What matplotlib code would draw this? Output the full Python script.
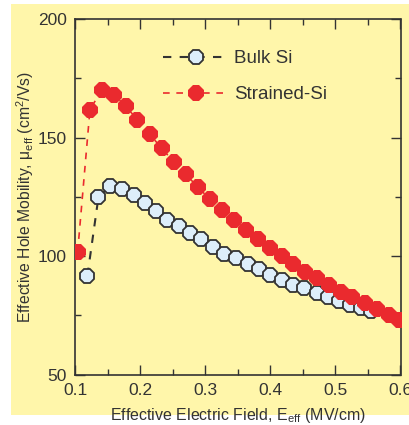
import numpy as np
import matplotlib.pyplot as plt
from matplotlib.patches import Rectangle
from matplotlib.ticker import MultipleLocator

plt.rcParams['font.family'] = ['Liberation Sans', 'DejaVu Sans']
plt.rcParams['mathtext.default'] = 'regular'

# Data
strained_x = [0.104, 0.123, 0.141, 0.160, 0.178, 0.196, 0.215, 0.233, 0.252, 0.270,
              0.289, 0.307, 0.326, 0.345, 0.363, 0.381, 0.399, 0.418, 0.435, 0.453,
              0.472, 0.490, 0.508, 0.526, 0.545, 0.564, 0.582, 0.598]
strained_y = [101.6, 161.8, 170.0, 168.0, 163.2, 157.4, 151.3, 145.5, 139.6, 134.5,
              129.0, 124.0, 119.3, 115.1, 111.0, 107.1, 103.5, 100.0, 96.6, 93.3,
              90.6, 87.8, 85.0, 82.5, 80.1, 77.6, 75.3, 73.0]

bulk_x = [0.119, 0.136, 0.154, 0.172, 0.190, 0.207, 0.224, 0.242, 0.260, 0.277,
          0.294, 0.312, 0.329, 0.347, 0.365, 0.382, 0.400, 0.418, 0.435, 0.452,
          0.471, 0.488, 0.505, 0.523, 0.540, 0.554]
bulk_y = [91.6, 124.8, 129.5, 128.3, 125.6, 122.4, 118.9, 115.4, 112.7, 109.5,
          107.1, 103.9, 100.8, 99.0, 96.5, 94.4, 92.0, 89.9, 87.8, 86.3,
          84.3, 82.9, 81.1, 79.4, 77.9, 76.6]

bg = '#fff6aa'
red = '#ea2a2e'
ink = '#333333'

fig = plt.figure(figsize=(4.09, 4.25), dpi=100)
fig.patch.set_facecolor('white')
fig.patches.append(Rectangle((11 / 409, 10 / 425), 1 - 11 / 409, 411 / 425,
                             transform=fig.transFigure, facecolor=bg,
                             edgecolor='none', zorder=-10))

ax = fig.add_axes([75 / 409, 1 - 374.5 / 425, 325.5 / 409, 355.5 / 425])
ax.set_facecolor(bg)

ax.plot(bulk_x, bulk_y, ls=(0, (4, 4)), color=ink, lw=1.5, marker='8', ms=10.5,
        mfc='#ddeefa', mec=ink, mew=1.3, label='Bulk Si', zorder=3)
ax.plot(strained_x, strained_y, ls=(0, (4, 4)), color=red, lw=1.2, marker='8', ms=11.8,
        mfc=red, mec=red, mew=0, label='Strained-Si', zorder=4)

ax.set_xlim(0.1, 0.6)
ax.set_ylim(50, 200)
ax.set_xticks([0.1, 0.2, 0.3, 0.4, 0.5, 0.6])
ax.set_yticks([50, 100, 150, 200])
ax.xaxis.set_minor_locator(MultipleLocator(0.05))
ax.yaxis.set_minor_locator(MultipleLocator(25))
ax.tick_params(which='both', direction='in', top=True, right=True, colors=ink,
               labelsize=12.5, width=1)
ax.tick_params(which='major', length=7)
ax.tick_params(axis='y', which='major', pad=6)
ax.tick_params(axis='x', which='major', pad=6)
ax.tick_params(which='minor', length=4)
for s in ax.spines.values():
    s.set_color(ink)
    s.set_linewidth(1.2)

ax.set_xlabel(r'Effective Electric Field, $E_{eff}$ (MV/cm)', fontsize=11.5,
              color=ink, labelpad=6)
ax.set_ylabel(r'Effective Hole Mobility, $\mu_{eff}$ (cm$^2$/Vs)', fontsize=11.3,
              color=ink, labelpad=1)

leg = ax.legend(loc='upper left', bbox_to_anchor=(0.22, 0.96), frameon=False,
                handlelength=3.5, handletextpad=0.25, labelspacing=1.0, fontsize=13.5)
for t in leg.get_texts():
    t.set_color(ink)

fig.savefig('out.png', dpi=100, facecolor=fig.get_facecolor())
